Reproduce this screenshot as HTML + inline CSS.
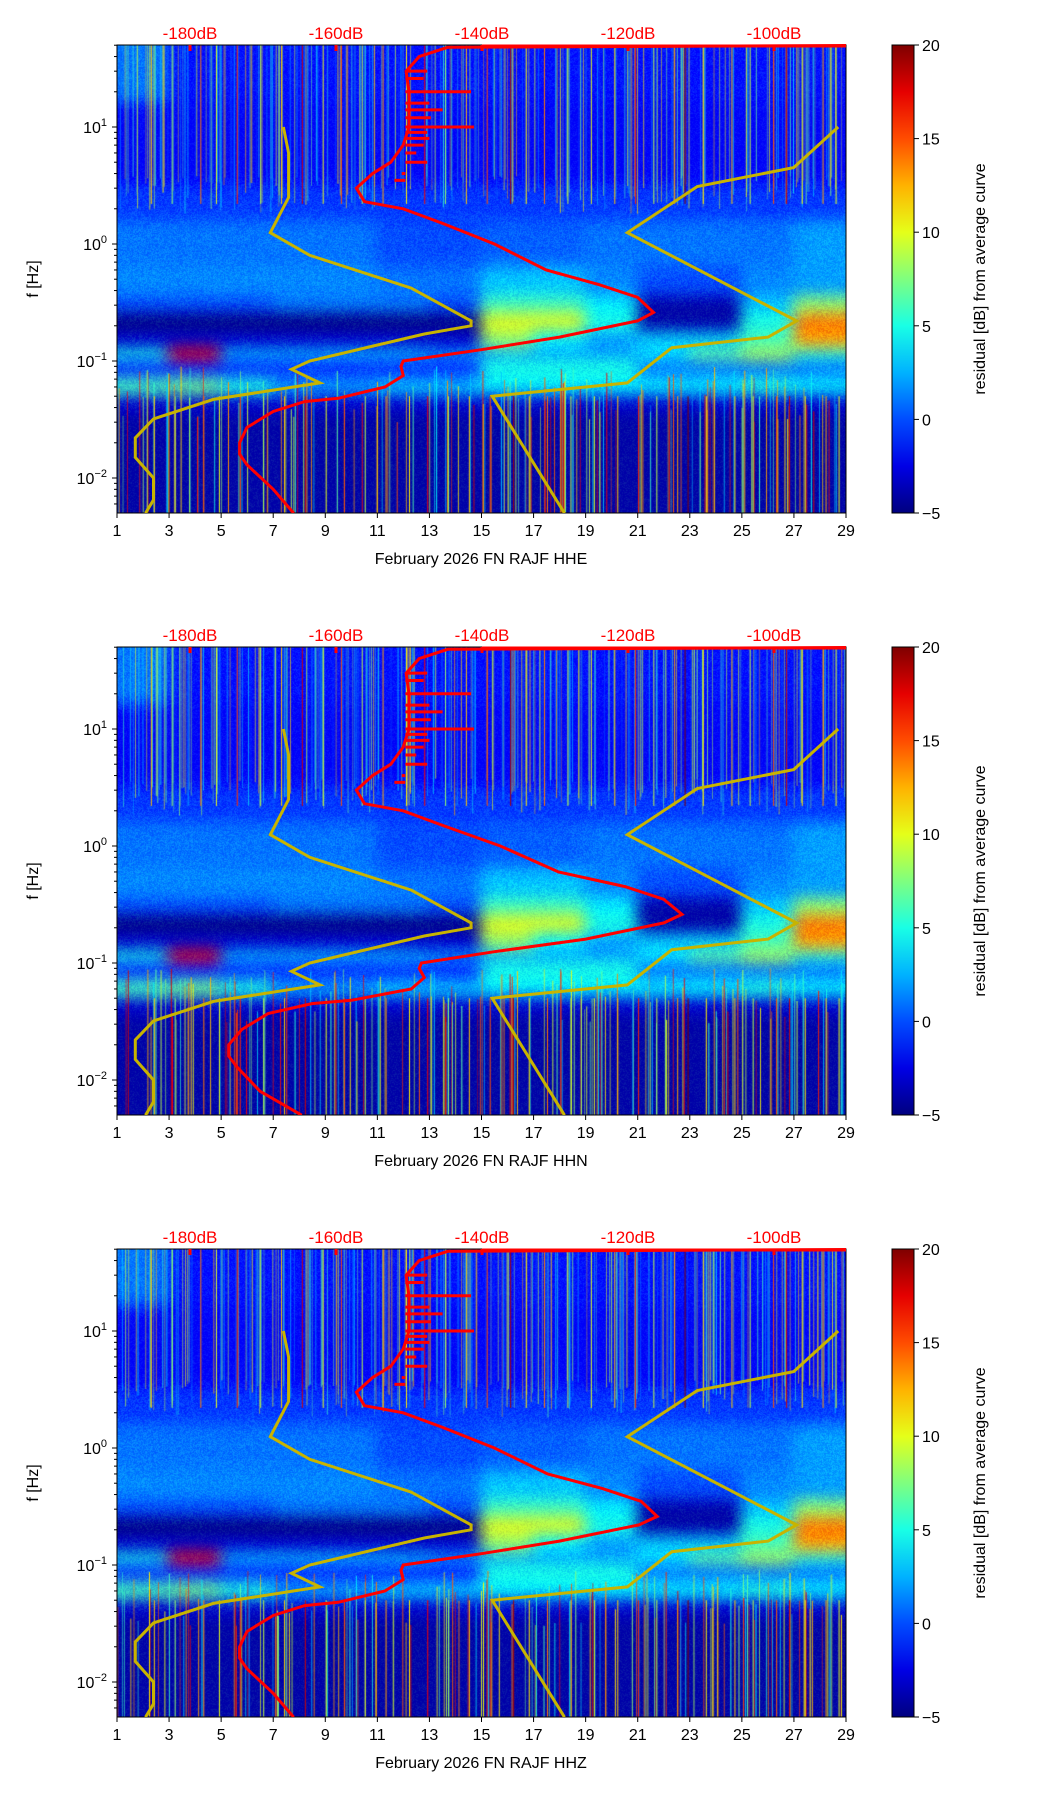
<!DOCTYPE html>
<html><head><meta charset="utf-8"><style>
body{margin:0;background:#fff;}
#root{position:relative;width:1052px;height:1806px;overflow:hidden;font-family:"Liberation Sans","DejaVu Sans",sans-serif;}
canvas{position:absolute;}
svg{position:absolute;left:0;top:0;}
</style></head><body>
<div id="root">
<svg id="ov" width="1052" height="1806"></svg>
</div>
<script>
// ---- data ----
const channels=["HHE","HHN","HHZ"];
const xTicks=[1,3,5,7,9,11,13,15,17,19,21,23,25,27,29];
const dbTicks=[-180,-160,-140,-120,-100];
const cbTicks=[-5,0,5,10,15,20];
const rowEdges=[1.7,1.2,0.5,0.2,-0.2,-0.45,-0.6,-0.75,-0.9,-1.0,-1.15,-1.3,-1.45,-2.3];
const grid=[
[1,-1.5,-1.5,-1.5,-1.5,-1.5,-1.5,-1.5,-1.5,-1.5,-1.5,-1.5,-1.5,-1.5],
[-2,-2,-2,-2,-2,-2,-2,-2,-2,-2,-2,-2,-2,-2],
[-0.5,-0.5,-0.5,-0.5,-0.5,-0.5,-0.5,-0.5,-0.5,-0.5,-0.5,-0.5,-0.5,-0.5],
[1,1,1,1,1,0,0,0.5,0.5,1,1,1,1,2],
[1.5,1.5,1.5,1.5,1.5,1,1,3,3,1.5,0,0,1.5,2],
[0,0,0,1,1,1,0,6,6,4,-4,-4,3,8],
[-5,-5,-5,-5,-5,-5,-5,10,10,5,-4,-4,5,14],
[-3,-3,-3,-3,-3,-3,-3,8,4,2,3,3,6,13],
[5,17,3,3,3,3,2,2,2,2,4,7,9,5],
[-1,-1,-1,-1,-1,-1,-1,5,5,5,1,1,1,1],
[6,7,5,2,2,3,3,4,4,4,4,4,5,4],
[-3,-3,-3,-3,-3,-3,-3,-3,-3,-3,-3,-3,-3,-3],
[-4,-4,-4,-4,-4,-4,-4,-4,-4,-4,-4,-4,-4,-4]];
const streakDays=[2.3,3.1,4.2,4.8,5.6,6.5,7.3,8.1,8.9,9.6,10.4,11.2,12.1,12.8,13.6,14.4,15.2,16.1,16.7,17.4,18.3,19.2,20.1,20.9,21.6,22.4,22.8,23.5,24.6,25.3,26.2,26.7,27.3,28.1,28.6];
const streakVals=[12,8,14,10,16,9,12,18,10,15,9,13,11,17,8,12,15,19,11,14,9,10,12,16,9,13,20,11,12,9,15,18,11,13,10];
// noise models (dB, Hz)
const nlnmDb=[-167.2,-166.5,-166.5,-169.0,-163.6,-149.7,-141.5,-141.5,-147.9,-163.6,-166.1,-162.2,-176.8,-185.0,-187.5,-187.5,-185.0,-185.0,-186.1];
const nlnmF=[10,6,2.5,1.25,0.8,0.42,0.22,0.2,0.17,0.1,0.085,0.065,0.047,0.032,0.022,0.015,0.01,0.0065,0.005];
const nhnmDb=[-91.2,-97.3,-110.5,-120.1,-96.9,-100.8,-114.0,-120.1,-138.6,-128.7];
const nhnmF=[10,4.5,3.1,1.25,0.22,0.16,0.13,0.065,0.05,0.005];
const redF=[50,48,40,30,20,10,7,5,4,3,2.3,2,1.5,1,0.6,0.45,0.35,0.26,0.22,0.16,0.125,0.1,0.09,0.075,0.06,0.048,0.045,0.037,0.027,0.02,0.016,0.013,0.008,0.005];
const redDbE=[-80,-144.7,-148.6,-150.4,-150.0,-150.0,-150.8,-152.5,-155.0,-157.2,-156.1,-150.8,-145.4,-138.3,-131.2,-124.0,-118.7,-116.5,-118.7,-129.4,-140.1,-150.8,-151.1,-150.8,-153.3,-159.7,-164.3,-168.6,-172.2,-173.2,-173.2,-172.2,-168.6,-165.8];
const redDbN=[-80,-144.7,-148.6,-150.4,-150.0,-150.0,-150.8,-152.5,-155.0,-157.2,-156.1,-150.8,-145.4,-137.5,-129.5,-120.4,-115.1,-112.6,-115.1,-125.8,-138.3,-148.3,-148.6,-147.9,-149.7,-157.9,-163.3,-169.3,-172.9,-174.7,-174.7,-173.6,-170.4,-164.7];
const redDbZ=[-80,-144.7,-148.6,-150.4,-150.0,-150.0,-150.8,-152.5,-155.0,-157.2,-156.1,-150.8,-145.4,-138.3,-131.0,-123.5,-118.2,-116.0,-118.5,-129.4,-140.1,-150.8,-151.1,-150.8,-153.3,-159.7,-164.3,-168.6,-172.2,-173.2,-173.2,-172.2,-168.6,-165.8];
const spikeF=[30,26,20,16,14,12,10,9,8,7,6,5,4,3.5];
const spikeDb=[-147.5,-148,-141.5,-147.2,-145.4,-147,-141.1,-147.5,-147.2,-148,-149,-147.5,-151,-152];
// ---- layout ----
const L=117,R=846,H=468,tops=[45,647,1249];
const NS="http://www.w3.org/2000/svg";
const ov=document.getElementById('ov');
function xDay(d){return L+(d-1)*(R-L)/28;}
function xDb(db){return 190+(db+180)*7.3;}
function yF(top,f){return top+82+(1-Math.log10(f))*117;}
function jet(v){let t=Math.max(0,Math.min(1,(v+5)/25));
 const r=Math.min(1,Math.max(0,1.5-Math.abs(4*t-3))),g=Math.min(1,Math.max(0,1.5-Math.abs(4*t-2))),b=Math.min(1,Math.max(0,1.5-Math.abs(4*t-1)));
 return [r*255|0,g*255|0,b*255|0];}
function el(tag,attrs,parent,name,text){const e=document.createElementNS(NS,tag);for(const k in attrs)e.setAttribute(k,attrs[k]);
 
 
 if(text!==undefined)e.textContent=text;(parent||ov).appendChild(e);return e;}
let seed=7;function rnd(){seed=(seed*16807)%2147483647;return seed/2147483647;}
const defs=el('defs',{},ov,'defs');
tops.forEach((top,pi)=>{
 const cp=el('clipPath',{id:'cp'+pi},defs,'plot-clip');
 el('rect',{x:L,y:top-2,width:R-L,height:H+2},cp,'clip-rect');
 const cv=document.createElement('canvas');cv.width=R-L;cv.height=H;cv.style.left=L+'px';cv.style.top=top+'px';
 
 
 document.getElementById('root').insertBefore(cv,ov);
 const off=document.createElement('canvas');off.width=R-L+60;off.height=H+60;const oc=off.getContext('2d');
 grid.forEach((row,ri)=>{row.forEach((v,ci)=>{const c=jet(v);oc.fillStyle=`rgb(${c})`;
  let x0=xDay(1+ci*2)-L+30,x1=xDay(3+ci*2)-L+30,y0=yF(0,Math.pow(10,rowEdges[ri]))+30,y1=yF(0,Math.pow(10,rowEdges[ri+1]))+30;
  if(ci==0)x0=0;if(ci==13)x1=off.width;if(ri==0)y0=0;if(ri==12)y1=off.height;
  oc.fillRect(x0-1,y0-1,x1-x0+2,y1-y0+2);});});
 const ctx=cv.getContext('2d');ctx.filter='blur(8px)';ctx.drawImage(off,-30,-30);ctx.filter='none';
 const img=ctx.getImageData(0,0,cv.width,H);const d=img.data;
 for(let i=0;i<d.length;i+=4){const n=(rnd()-0.5)*60;d[i]=Math.max(0,Math.min(255,d[i]+n*0.4));d[i+1]=Math.max(0,Math.min(255,d[i+1]+n));}
 ctx.putImageData(img,0,0);
 // decorative fine streaks (texture)
 for(let k=0;k<260;k++){const x=rnd()*cv.width;const v=-1+rnd()*14;const c=jet(v);ctx.globalAlpha=0.35+rnd()*0.4;ctx.fillStyle=`rgb(${c})`;
  ctx.fillRect(x,0,1,yF(0,1.8+rnd()*2));}
 for(let k=0;k<160;k++){const x=rnd()*cv.width;const v=2+rnd()*16;const c=jet(v);ctx.globalAlpha=0.5+rnd()*0.5;ctx.fillStyle=`rgb(${c})`;
  const y0=yF(0,0.03+rnd()*0.06);ctx.fillRect(x,y0,1,H-y0);}
 ctx.globalAlpha=1;
 streakDays.forEach((sd,i)=>{const c=jet(streakVals[i]);ctx.fillStyle=`rgb(${c})`;const x=xDay(sd)-L;
  ctx.fillRect(x,0,1,yF(0,2.2));ctx.fillRect(x+3,yF(0,0.05),1,H);});
 el('rect',{x:L,y:top,width:R-L,height:H,fill:'none',stroke:'#000','stroke-width':1},ov,'plot-frame');
 xTicks.forEach(t=>{const x=xDay(t);el('line',{x1:x,x2:x,y1:top+H,y2:top+H+5,stroke:'#000'},ov,'x-tick');
  el('text',{x:x,y:top+H+23,'font-size':16,'text-anchor':'middle'},ov,'x-tick-label',String(t));});
 el('text',{x:481,y:top+H+51,'font-size':16,'text-anchor':'middle'},ov,'x-axis-title','February 2026 FN RAJF  '+channels[pi]);
 for(let e=-3;e<=1;e++){for(let m=1;m<10;m++){const f=m*Math.pow(10,e);const y=yF(top,f);if(y<top||y>top+H)continue;
  el('line',{x1:L-(m==1?5:3),x2:L,y1:y,y2:y,stroke:'#000'},ov,'y-tick');
  if(m==1){const t=el('text',{x:L-10,y:y+6,'font-size':16,'text-anchor':'end'},ov,'y-tick-label','10');
   const s=document.createElementNS(NS,'tspan');s.setAttribute('dy','-7');s.setAttribute('font-size','11');s.textContent=(e<0?'\u2212':'')+Math.abs(e);t.appendChild(s);}}}
 el('text',{x:38,y:top+H/2,'font-size':16,'text-anchor':'middle',transform:`rotate(-90 38 ${top+H/2})`},ov,'y-axis-title','f [Hz]');
 dbTicks.forEach(db=>{const x=xDb(db);el('line',{x1:x,x2:x,y1:top,y2:top+6,stroke:'#f00','stroke-width':3},ov,'db-tick');
  el('text',{x:x,y:top-6,'font-size':17,fill:'#f00','text-anchor':'middle'},ov,'db-tick-label',db+'dB');});
 const g=el('g',{'clip-path':`url(#cp${pi})`},ov,'curves');
 const pts=(dbs,fs)=>dbs.map((v,i)=>xDb(v).toFixed(1)+','+yF(top,fs[i]).toFixed(1)).join(' ');
 el('polyline',{points:pts(nlnmDb,nlnmF),fill:'none',stroke:'#c8b400','stroke-width':3},g,'nlnm-curve');
 el('polyline',{points:pts(nhnmDb,nhnmF),fill:'none',stroke:'#c8b400','stroke-width':3},g,'nhnm-curve');
 const red=[redDbE,redDbN,redDbZ][pi];
 el('polyline',{points:pts(red,redF),fill:'none',stroke:'#f00','stroke-width':3},g,'average-curve');
 el('line',{x1:xDb(-140),x2:R,y1:top+1,y2:top+1,stroke:'#f00','stroke-width':3},g,'average-curve-top');
 spikeF.forEach((f,i)=>{const y=yF(top,f);el('line',{x1:xDb(-150.5),x2:xDb(spikeDb[i]),y1:y,y2:y,stroke:'#f00','stroke-width':3},g,'average-curve-spike');});
 const gid='g'+pi;const lg=el('linearGradient',{id:gid,x1:0,y1:1,x2:0,y2:0},defs,'colorbar-gradient');
 for(let k=0;k<=10;k++){const c=jet(-5+25*k/10);el('stop',{offset:k/10,'stop-color':`rgb(${c})`},lg,'gradient-stop');}
 el('rect',{x:892,y:top,width:22,height:H,fill:`url(#${gid})`,stroke:'#000'},ov,'colorbar');
 cbTicks.forEach(v=>{const y=top+H-(v+5)/25*H;el('line',{x1:914,x2:919,y1:y,y2:y,stroke:'#000'},ov,'colorbar-tick');
  el('text',{x:922,y:y+6,'font-size':16},ov,'colorbar-tick-label',(v<0?'\u2212':'')+Math.abs(v));});
 el('text',{x:985,y:top+H/2,'font-size':16,'text-anchor':'middle',transform:`rotate(-90 985 ${top+H/2})`},ov,'colorbar-title','residual [dB] from average curve');
});
</script>
</body></html>
